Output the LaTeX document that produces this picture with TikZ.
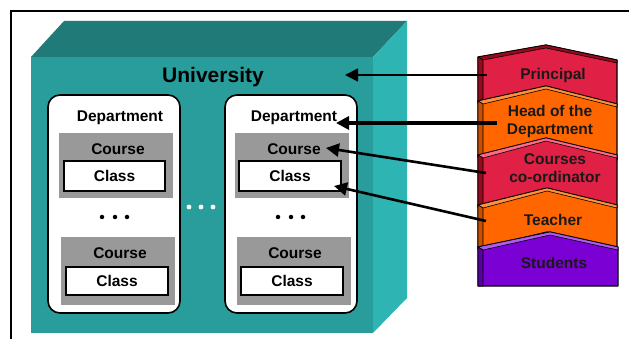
\documentclass[tikz,border=0pt]{standalone}
\usepackage{fontspec}
\setmainfont{Liberation Sans}
\usetikzlibrary{arrows.meta}
\definecolor{cubetop}{RGB}{31,122,120}
\definecolor{cubefront}{RGB}{40,157,155}
\definecolor{cuberight}{RGB}{47,180,180}
\definecolor{coursegray}{RGB}{153,153,153}
\definecolor{redface}{RGB}{224,32,68}
\definecolor{redside}{RGB}{150,10,30}
\definecolor{redtop}{RGB}{255,105,135}
\definecolor{orface}{RGB}{255,102,0}
\definecolor{orside}{RGB}{200,78,0}
\definecolor{ortop}{RGB}{255,145,60}
\definecolor{puface}{RGB}{122,0,212}
\definecolor{puside}{RGB}{88,0,160}
\definecolor{putop}{RGB}{175,90,240}
\newcommand\mychevron[8]{%
  \filldraw[fill=#6, draw=black, line width=1.2pt, line join=round]
    (478,#1) -- (#4,#2) -- (617,#3) -- (617,#3+#5) -- (#4,#2+#5) -- (478,#1+#5) -- cycle;
  \filldraw[fill=#8, draw=black, line width=0.6pt, line join=round]
    (478,#1) -- (#4,#2) -- (617,#3) -- (617,#3+3) -- (#4,#2+3) -- (483,#1+3) -- cycle;
  \filldraw[fill=#7, draw=black, line width=0.6pt, line join=round]
    (478,#1) -- (483,#1+3) -- (483,#1+#5+2) -- (478,#1+#5) -- cycle;
}
\begin{document}
\begin{tikzpicture}[x=1pt,y=-1pt,
  font=\bfseries\fontsize{15.5}{18}\selectfont,
  deptbox/.style={draw=black, line width=1.6pt, fill=white, rounded corners=12pt, inner sep=0pt},
  coursebox/.style={fill=coursegray, inner sep=0pt},
  classbox/.style={draw=black, line width=1.8pt, fill=white, inner sep=0pt},
  lbl/.style={inner sep=0pt},
  rolelbl/.style={inner sep=0pt, align=center, text=black!90},
  bdot/.style={circle, fill=black, inner sep=0pt, minimum size=4.5pt},
  wdot/.style={circle, fill=white, inner sep=0pt, minimum size=4.8pt},
  arr/.style={-{Triangle[length=13pt,width=13pt]}, line cap=butt}
]
\useasboundingbox (0,0) rectangle (629,339);
\fill[white] (0,0) rectangle (629,339);
% frame
\draw[line width=2pt] (11,340) -- (11,11) -- (630,11);
% cube
\fill[cubetop] (31,57) -- (64,21) -- (407,21) -- (373,57) -- cycle;
\fill[cuberight] (373,57) -- (407,21) -- (407,298) -- (373,333) -- cycle;
\fill[cubefront] (31,57) rectangle (373,333);
\node[lbl] (univ) at (213,77) {\fontsize{21}{24}\selectfont University};
% departments
\node[deptbox, minimum width=132pt, minimum height=218pt] (d1) at (114,204) {};
\node[deptbox, minimum width=132pt, minimum height=218pt] (d2) at (291,204) {};
\node[lbl] (d1l) at (120,118) {Department};
\node[lbl] (d2l) at (294,118) {Department};
% courses dept 1
\node[coursebox, minimum width=114pt, minimum height=65pt] (c11) at (116,165.5) {};
\node[lbl] (c11l) at (118,149) {Course};
\node[classbox, minimum width=101pt, minimum height=30pt] (k11) at (114.5,176) {Class};
\node[coursebox, minimum width=114pt, minimum height=68pt] (c12) at (118,271) {};
\node[lbl] (c12l) at (120,253) {Course};
\node[classbox, minimum width=102pt, minimum height=28pt] (k12) at (117,281) {Class};
% courses dept 2
\node[coursebox, minimum width=114pt, minimum height=65pt] (c21) at (292,165.5) {};
\node[lbl] (c21l) at (294,149) {Course};
\node[classbox, minimum width=102pt, minimum height=30pt] (k21) at (290,176) {Class};
\node[coursebox, minimum width=114pt, minimum height=68pt] (c22) at (294,271) {};
\node[lbl] (c22l) at (295,253) {Course};
\node[classbox, minimum width=102pt, minimum height=28pt] (k22) at (292,281) {Class};
% dots
\node[bdot] (a1) at (102,217) {};
\node[bdot] (a2) at (115,217) {};
\node[bdot] (a3) at (127,217) {};
\node[bdot] (b1) at (278,217) {};
\node[bdot] (b2) at (291,217) {};
\node[bdot] (b3) at (303,217) {};
\node[wdot] (w1) at (189,207) {};
\node[wdot] (w2) at (201,207) {};
\node[wdot] (w3) at (213,207) {};
% role chevrons
\mychevron{57}{45}{60}{546}{46}{redface}{redside}{redside}
\mychevron{101}{86}{104}{546}{56}{orface}{orside}{ortop}
\mychevron{155}{138}{155}{546}{52}{redface}{redside}{redtop}
\mychevron{205}{188}{205}{547}{44}{orface}{orside}{ortop}
\filldraw[fill=puface, draw=black, line width=1.2pt, line join=round]
  (478,247) -- (550,232) -- (618,247) -- (618,286) -- (478,286) -- cycle;
\filldraw[fill=putop, draw=black, line width=0.6pt, line join=round]
  (478,247) -- (550,232) -- (618,247) -- (618,250) -- (550,235) -- (483,250) -- cycle;
\filldraw[fill=puside, draw=black, line width=0.6pt, line join=round]
  (478,247) -- (483,250) -- (483,286) -- (478,286) -- cycle;
\node[rolelbl] (rp) at (553,75) {Principal};
\node[rolelbl] (rh) at (550,121.5) {Head of the\\Department};
\node[rolelbl] (rc) at (555,168) {Courses\\co-ordinator};
\node[rolelbl] (rt) at (553,220) {Teacher};
\node[rolelbl] (rs) at (554,263) {Students};
% arrow endpoints
\coordinate (sp) at (487,75);
\coordinate (tp) at (345,75);
\coordinate (sh) at (497,123);
\coordinate (th) at (336,123);
\coordinate (sc) at (486,173);
\coordinate (tc) at (326,148);
\coordinate (st) at (486,221);
\coordinate (tt) at (334,186);
\draw[arr, line width=1.6pt] (sp) -- (tp);
\draw[arr, line width=3.2pt] (sh) -- (th);
\draw[arr, line width=2.6pt] (sc) -- (tc);
\draw[arr, line width=2.6pt] (st) -- (tt);
\end{tikzpicture}
\end{document}
